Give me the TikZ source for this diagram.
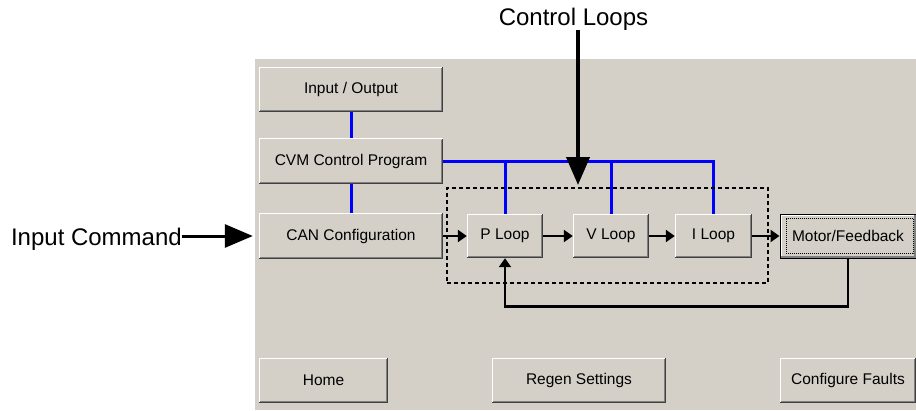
\documentclass[tikz,border=0pt]{standalone}
\usepackage{fontspec}
\setmainfont{Liberation Sans}
\usetikzlibrary{arrows.meta}
\definecolor{panel}{HTML}{D4D0C8}
\definecolor{btngray}{HTML}{808080}
\definecolor{btndark}{HTML}{404040}

\begin{document}
\begin{tikzpicture}[x=1pt,y=-1pt,
  btn/.style={fill=panel,inner sep=0pt,minimum height=45pt,font=\fontsize{15.5}{18}\selectfont},
  lbl/.style={inner sep=0pt,font=\fontsize{24}{28}\selectfont},
  bus/.style={color={rgb,255:red,0;green,0;blue,255},line width=3pt},
  flow/.style={line width=2.5pt,-{Triangle[length=9pt,width=12pt]}},
  bigarrow/.style={-{Triangle[length=28pt,width=23pt]}}]
\fill[white](0,0) rectangle (916,410);
\fill[panel](255,59) rectangle (916,410);
\useasboundingbox (0,0) rectangle (916,410);
% buttons
\node[btn,minimum width=184pt] (io) at (351,89.5) {Input / Output};
\node[btn,minimum width=184pt] (cvm) at (351,161) {CVM Control Program};
\node[btn,minimum width=184pt,minimum height=46pt] (can) at (351,236) {CAN Configuration};
\node[btn,minimum width=76pt,minimum height=44pt] (plp) at (505,236) {P Loop};
\node[btn,minimum width=76pt,minimum height=44pt] (vlp) at (611,236) {V Loop};
\node[btn,minimum width=77pt,minimum height=44pt] (ilp) at (713.5,236) {I Loop};
\node[btn,draw=black,line width=1pt,minimum width=136pt,minimum height=44pt] (mf) at (848,236) {Motor/Feedback};
\node[btn,minimum width=129pt] (home) at (323.5,380.5) {Home};
\node[btn,minimum width=174pt] (regen) at (579,380.5) {Regen Settings};
\node[btn,minimum width=136pt] (faults) at (848,380.5) {Configure Faults};
\foreach \b in {io,cvm,can,plp,vlp,ilp,home,regen,faults}{
  \draw[white,line width=1pt]([shift={(0.5pt,0.5pt)}]\b.south west) |- ([shift={(-0.5pt,-0.5pt)}]\b.north east);
  \draw[btndark,line width=1pt]([shift={(0.5pt,0.5pt)}]\b.south west) -| ([shift={(-0.5pt,-0.5pt)}]\b.north east);
  \draw[btngray,line width=1pt]([shift={(1.5pt,1.5pt)}]\b.south west) -| ([shift={(-1.5pt,-1.5pt)}]\b.north east);
}
\draw[white,line width=1pt]([shift={(1.5pt,1.5pt)}]mf.south west) |- ([shift={(-1.5pt,-1.5pt)}]mf.north east);
\draw[btngray,line width=1.5pt]([shift={(1.75pt,1.75pt)}]mf.south west) -| ([shift={(-1.75pt,-1.75pt)}]mf.north east);
\draw[line width=1pt,dash pattern=on 1pt off 1pt]([shift={(7pt,5pt)}]mf.south west) rectangle ([shift={(-3pt,-5pt)}]mf.north east);
% blue links
\draw[bus](io) -- (cvm);
\draw[bus](cvm) -- (can);
\draw[bus](cvm.east) -| (ilp.north);
\draw[bus](plp.north) -- (plp.north |- cvm.east);
\draw[bus](vlp.north) -- (vlp.north |- cvm.east);
% loop chain
\draw[flow](can.east) -- (plp.west);
\draw[flow](plp.east) -- (vlp.west);
\draw[flow](vlp.east) -- (ilp.west);
\draw[flow](ilp.east) -- (mf.west);
\draw[flow](mf.south) -- ++(0,48) -| (plp.south);
\node[draw,line width=1.5pt,dash pattern=on 4pt off 3pt,inner sep=0pt,minimum width=321pt,minimum height=95pt] (loops) at (607.5,235.5) {};
% labels
\node[lbl,anchor=base east] (cmd) at (182,245) {Input Command};
\node[lbl,anchor=base] (ctl) at (573.5,25) {Control Loops};
\coordinate (ctltip) at (578,185);
\draw[bigarrow,line width=4pt](ctl.south -| ctltip) -- (ctltip);
\draw[bigarrow,line width=3pt](cmd.east |- can.west) -- ([xshift=-6pt]can.west);
\end{tikzpicture}
\end{document}
